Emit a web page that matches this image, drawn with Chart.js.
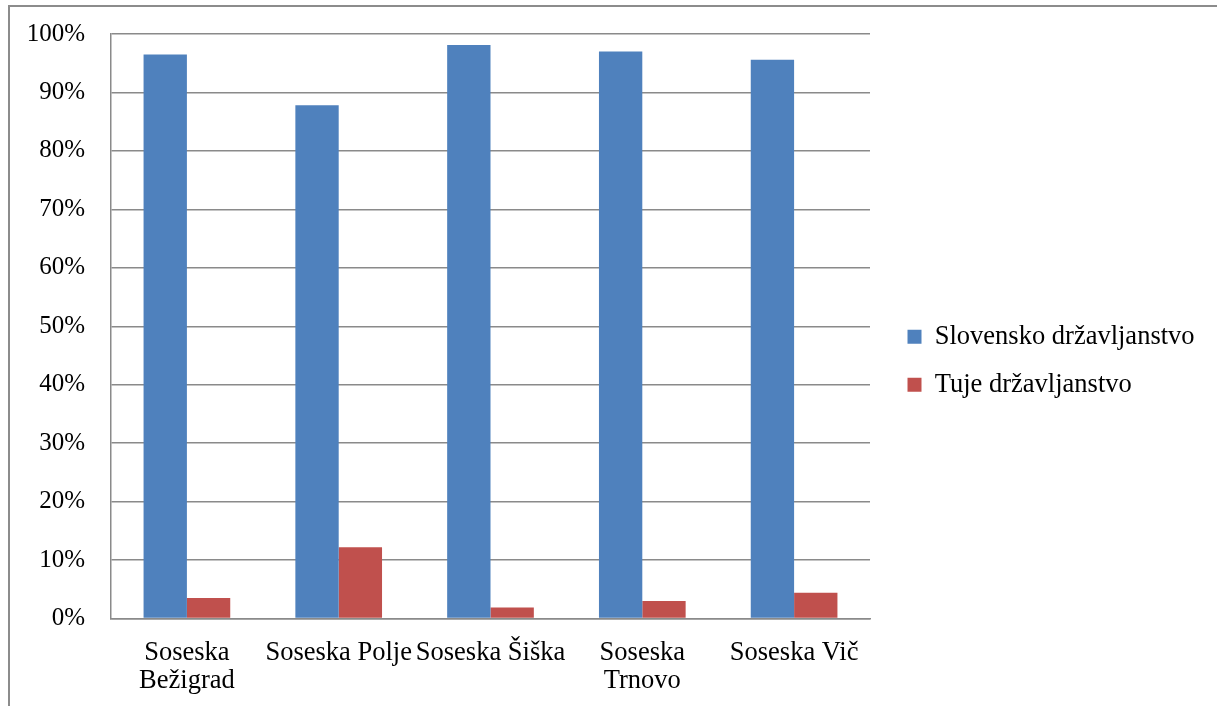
<!DOCTYPE html>
<html>
<head>
<meta charset="utf-8">
<script src="https://cdn.jsdelivr.net/npm/chart.js@4/dist/chart.umd.min.js"></script>
<style>
    html, body { margin: 0; padding: 0; background: #fff; overflow: hidden; }
    #wrap { position: relative; width: 1217px; height: 706px; }
    #okvir {
        position: absolute; left: 8px; top: 5px; width: 1300px; height: 800px;
        border-left: 2px solid #8c8c8c; border-top: 2px solid #8c8c8c;
        pointer-events: none;
    }
</style>
</head>
<body>
<div id="wrap">
    <canvas id="drzavljanstvo" width="1217" height="706"></canvas>
    <div id="okvir"></div>
</div>
<script>
const soseske = [['Soseska', 'Bežigrad'], 'Soseska Polje', 'Soseska Šiška', ['Soseska', 'Trnovo'], 'Soseska Vič'];
const slovensko = [96.5, 87.8, 98.1, 97.0, 95.6];
const tuje = [3.5, 12.2, 1.9, 3.0, 4.4];
const oznakeSerij = ['Slovensko državljanstvo', 'Tuje državljanstvo'];

function creerGraf(id) {
    const pisava = 'Liberation Serif, Times New Roman, serif';
    const ctx = document.getElementById(id).getContext('2d');
    // legenda: fiksna sirina in polozaj kot v Excelu
    const legendaPoravnava = {
        id: 'legendaPoravnava',
        beforeInit(chart) {
            const fit = chart.legend.fit;
            chart.legend.fit = function () {
                fit.bind(chart.legend)();
                this.width = 331;
            };
        },
        afterLayout(chart) {
            chart.legend.top = 302;
        }
    };
    return new Chart(ctx, {
        type: 'bar',
        data: {
            labels: soseske,
            datasets: [{
                label: oznakeSerij[0],
                data: slovensko,
                backgroundColor: '#4F81BD',
                borderWidth: 0
            }, {
                label: oznakeSerij[1],
                data: tuje,
                backgroundColor: '#C0504D',
                borderWidth: 0
            }]
        },
        options: {
            responsive: false,
            animation: false,
            layout: { padding: { top: 34, bottom: 0, left: 0, right: 0 } },
            datasets: { bar: { categoryPercentage: 0.571, barPercentage: 1 } },
            scales: {
                x: {
                    grid: { display: false, drawTicks: false },
                    border: { display: true, color: '#8a8a8a', width: 1.5 },
                    ticks: {
                        color: '#000',
                        padding: 21,
                        maxRotation: 0,
                        autoSkip: false,
                        font: { family: pisava, size: 26.5, lineHeight: 1.04 }
                    },
                    afterFit: s => { s.height = 87.5; }
                },
                y: {
                    min: 0,
                    max: 100,
                    grid: { color: '#8a8a8a', lineWidth: 1.5, drawTicks: false },
                    border: { display: true, color: '#8a8a8a', width: 1.5 },
                    ticks: {
                        stepSize: 10,
                        color: '#000',
                        padding: 26,
                        font: { family: pisava, size: 25 },
                        callback: v => v + '%'
                    },
                    afterFit: s => {
                        s.width = 111;
                        s.paddingTop = 0;
                        s.paddingBottom = 0;
                    }
                },
                y2: {
                    position: 'right',
                    display: true,
                    grid: { display: false, drawTicks: false },
                    border: { display: false },
                    ticks: { display: false },
                    afterFit: s => { s.width = 16; }
                }
            },
            plugins: {
                tooltip: { enabled: false },
                legend: {
                    position: 'right',
                    align: 'start',
                    labels: {
                        boxWidth: 14,
                        boxHeight: 14,
                        padding: 21.5,
                        color: '#000',
                        font: { family: pisava, size: 26.5 }
                    }
                }
            }
        },
        plugins: [legendaPoravnava]
    });
}

creerGraf('drzavljanstvo');
</script>
</body>
</html>
